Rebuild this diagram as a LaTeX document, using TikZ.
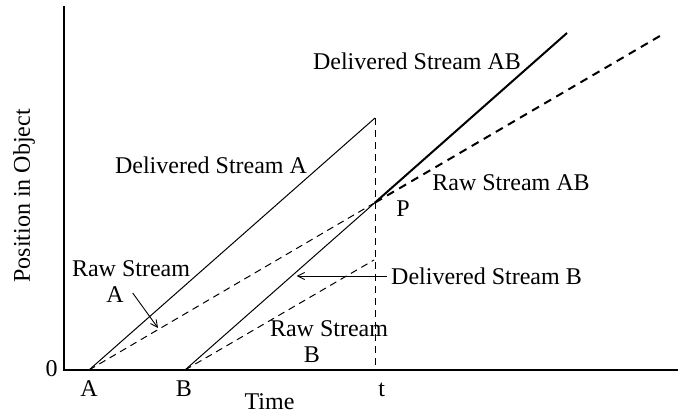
\documentclass[tikz,border=0pt]{standalone}
\usepackage{fontspec}
\setmainfont{Liberation Serif}
\usetikzlibrary{arrows.meta}
\begin{document}
\begin{tikzpicture}[x=1pt,y=-1pt,
  font=\fontsize{24}{28}\selectfont,
  lbl/.style={inner sep=0pt, anchor=base},
  lblw/.style={inner sep=0pt, anchor=base west},
  axisline/.style={line width=1.5pt},
  solidthin/.style={line width=1pt},
  dashthin/.style={line width=1pt, dash pattern=on 7pt off 5pt},
  solidthick/.style={line width=2pt},
  dashthick/.style={line width=2pt, dash pattern=on 8pt off 6pt},
  pointer/.style={line width=0.9pt, -{Straight Barb[length=7pt,width=7pt]}}
]
\useasboundingbox (0,0) rectangle (678,419);

% key points
\coordinate (O) at (64,370);
\coordinate (ytop) at (64,6);
\coordinate (xend) at (678,370);
\coordinate (A) at (89,370);
\coordinate (B) at (185,370);
\coordinate (Atop) at (375,118);
\coordinate (T) at (375,370);
\coordinate (P) at (375,202.6);
\coordinate (ABend) at (567,33);
\coordinate (RABend) at (665,33);
\coordinate (RBend) at (374,260);

% axes
\draw[axisline] (ytop) -- (O) -- (xend);

% streams
\draw[solidthin] (A) -- (Atop);
\draw[dashthin] (Atop) -- (T);
\draw[dashthin] (A) -- (P);
\draw[solidthin] (B) -- (P);
\draw[dashthin] (B) -- (RBend);
\draw[solidthick] (P) -- (ABend);
\draw[dashthick] (P) -- (RABend);

% labels
\node[lbl] (l0) at (51.5,376.7) {0};
\node[lbl] (lA) at (89,396.7) {A};
\node[lbl] (lB) at (184,396.7) {B};
\node[lbl] (lt) at (381.7,396.7) {t};
\node[lbl] (ltime) at (269.5,409.3) {Time};
\node[inner sep=0pt, rotate=90, anchor=base] (lpos) at (30,196) {Position in Object};

\node[lbl] (dA) at (211,174) {Delivered Stream A};
\node[lbl] (rA1) at (131,276.7) {Raw Stream};
\node[lbl] (rA2) at (115,303) {A};
\node[lbl] (rB1) at (329,337) {Raw Stream};
\node[lbl] (rB2) at (312,362.7) {B};
\node[lbl] (dAB) at (417,70) {Delivered Stream AB};
\node[lbl] (rAB) at (511,190.7) {Raw Stream AB};
\node[lbl] (lP) at (403,216.7) {P};
\node[lblw] (dB) at (391,285) {Delivered Stream B};

% pointers
\coordinate (pBs) at (386.7,276);
\coordinate (pBe) at (296.7,276);
\coordinate (pAs) at (132.7,293);
\coordinate (pAe) at (158,328);
\draw[pointer] (pBs) -- (pBe);
\draw[pointer] (pAs) -- (pAe);
\end{tikzpicture}
\end{document}
